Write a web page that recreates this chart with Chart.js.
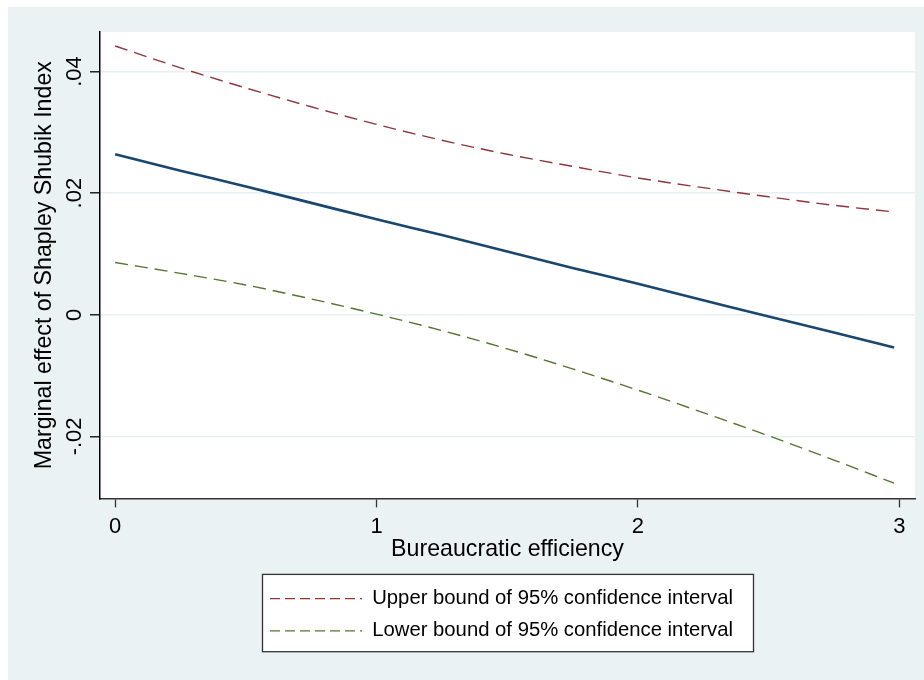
<!DOCTYPE html>
<html><head><meta charset="utf-8">
<script src="https://cdn.jsdelivr.net/npm/chart.js@4/dist/chart.umd.min.js"></script>
<style>
html,body{margin:0;padding:0;background:#ffffff;}
#frame{position:absolute;left:8px;top:7px;width:916px;height:673px;background:#eaf2f3;}
canvas{display:block;}
</style></head><body>
<div id="frame"><canvas id="c" width="916" height="673"></canvas></div>
<script>
// ---- data ----
const efficiency     = [0, 0.25, 0.5, 0.75, 1.0, 1.25, 1.5, 1.75, 2.0, 2.25, 2.5, 2.75, 2.98];
const marginalEffect = [0.0264, 0.0237, 0.0211, 0.0184, 0.0157, 0.0131, 0.0104, 0.0077, 0.0051, 0.0024, -0.0003, -0.0029, -0.0054];
const upperBound     = [0.0442, 0.0406, 0.0373, 0.0342, 0.0313, 0.0287, 0.0264, 0.0244, 0.0225, 0.0209, 0.0194, 0.0180, 0.0169];
const lowerBound     = [0.0086, 0.0068, 0.0049, 0.0026, 0.0001, -0.0026, -0.0056, -0.0089, -0.0124, -0.0161, -0.0199, -0.0239, -0.0277];
const xTicks      = [0, 1, 2, 3];
const xTickLabels = ['0', '1', '2', '3'];
const yTicks      = [-0.02, 0, 0.02, 0.04];
const yTickLabels = ['-.02', '0', '.02', '.04'];
const seriesLabels = ['Marginal effect', 'Upper bound of 95% confidence interval', 'Lower bound of 95% confidence interval'];
const xTitle = 'Bureaucratic efficiency';
const yTitle = 'Marginal effect of Shapley Shubik Index';
const xRange = [-0.058, 3.06];
const yRange = [-0.0302, 0.0465];

const FONT = "'Liberation Sans', Arial, sans-serif";
const toPts = ys => efficiency.map((x, i) => ({x: x, y: ys[i]}));

const framePlugin = {
  id: 'frame',
  afterLayout(chart) {
    // legend items sit slightly left of the plot centre, as in the reference
    const lg = chart.legend;
    if (lg) { lg.left -= 6; lg.right -= 6; }
  },
  beforeDraw(chart) {
    const {ctx, chartArea: a} = chart;
    ctx.save();
    ctx.fillStyle = '#ffffff';
    ctx.fillRect(a.left, a.top, a.right - a.left, a.bottom - a.top);
    const lg = chart.legend;
    if (lg && lg.legendHitBoxes && lg.legendHitBoxes.length) {
      const hb = lg.legendHitBoxes;
      let l = Infinity, r = -Infinity;
      hb.forEach(h => { l = Math.min(l, h.left); r = Math.max(r, h.left + h.width); });
      const t = hb[0].top - 14, b = hb[hb.length - 1].top + 31;
      const x0 = Math.round(l - 8) + 0.5, x1 = Math.round(r + 20) + 0.5;
      ctx.fillStyle = '#ffffff';
      ctx.fillRect(x0, t, x1 - x0, b - t);
      ctx.strokeStyle = '#333333';
      ctx.lineWidth = 1.3;
      ctx.strokeRect(x0, t, x1 - x0, b - t);
    }
    ctx.restore();
  }
};

new Chart(document.getElementById('c'), {
  type: 'line',
  data: {
    datasets: [
      {label: seriesLabels[0], data: toPts(marginalEffect), borderColor: '#1a476f', borderWidth: 2.6, pointRadius: 0, cubicInterpolationMode: 'monotone'},
      {label: seriesLabels[1], data: toPts(upperBound), borderColor: '#90353b', borderWidth: 1.4, borderDash: [13, 7], pointRadius: 0, cubicInterpolationMode: 'monotone'},
      {label: seriesLabels[2], data: toPts(lowerBound), borderColor: '#55752f', borderWidth: 1.4, borderDash: [13, 7], pointRadius: 0, cubicInterpolationMode: 'monotone'}
    ]
  },
  options: {
    responsive: false,
    animation: false,
    devicePixelRatio: 1,
    layout: {padding: {left: 0, right: 9, top: 25, bottom: 29}},
    plugins: {
      tooltip: {enabled: false},
      legend: {
        position: 'bottom',
        fullSize: false,
        labels: {
          filter: item => item.datasetIndex > 0,
          generateLabels: chart => Chart.defaults.plugins.legend.labels.generateLabels(chart).map(it => {
            it.lineDash = [10, 5];
            it.lineWidth = 1.3;
            return it;
          }),
          usePointStyle: true,
          pointStyle: 'line',
          pointStyleWidth: 92,
          padding: 12,
          color: '#000000',
          font: {family: FONT, size: 20.3}
        }
      }
    },
    scales: {
      x: {
        type: 'linear',
        min: xRange[0], max: xRange[1],
        afterBuildTicks: s => { s.ticks = xTicks.map(v => ({value: v})); },
        afterFit: s => { s.height = 78; },
        ticks: {
          callback: v => xTickLabels[xTicks.indexOf(v)],
          color: '#000000', font: {family: FONT, size: 22}, padding: 6, maxRotation: 0
        },
        grid: {drawOnChartArea: false, drawTicks: true, tickLength: 9, tickColor: '#333333', tickWidth: 1.3},
        border: {color: '#333333', width: 1.5},
        title: {display: true, text: xTitle, color: '#000000', font: {family: FONT, size: 23.2}, padding: {top: 0, bottom: 13}}
      },
      y: {
        type: 'linear',
        min: yRange[0], max: yRange[1],
        afterBuildTicks: s => { s.ticks = yTicks.map(v => ({value: v})); },
        afterFit: s => { s.width = 92; },
        ticks: {
          callback: v => yTickLabels[yTicks.indexOf(v)],
          color: '#000000', font: {family: FONT, size: 22}, padding: -4,
          minRotation: 90, maxRotation: 90, crossAlign: 'center'
        },
        grid: {color: '#e6eff1', lineWidth: 1.6, tickColor: '#000000', tickLength: 10, tickWidth: 1.3},
        border: {color: '#000000', width: 1.5},
        title: {display: true, text: yTitle, color: '#000000', font: {family: FONT, size: 23.2}, padding: {top: 23, bottom: 0}}
      }
    }
  },
  plugins: [framePlugin]
});
</script>
</body></html>
